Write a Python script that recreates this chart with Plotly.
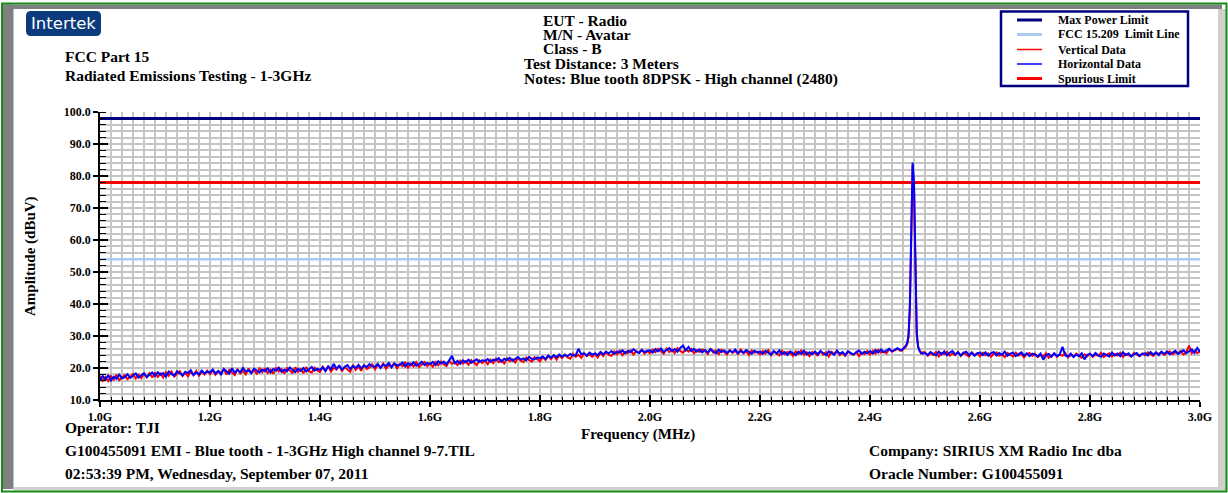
import numpy as np
import plotly.graph_objects as go

# ---- frequency sampling (GHz) ----
freq_a = np.round(np.arange(1.000, 2.4551, 0.005), 4)      # 1.000 .. 2.455
freq_peak = np.round(np.arange(2.4575, 2.4951, 0.0025), 4)  # fine steps around the carrier
freq_b = np.round(np.arange(2.500, 3.0001, 0.005), 4)       # 2.500 .. 3.000
freq_ghz = np.concatenate([freq_a, freq_peak, freq_b])

# ---- measured amplitudes (dBuV) ----
vertical_a = [
    17.6, 16.0, 17.2, 15.9, 17.5, 16.4, 17.9, 16.2, 17.0, 17.8, 16.5, 17.4, 18.1, 16.7, 17.9, 16.8, 18.2, 17.1, 18.4, 17.0,
    18.6, 17.2, 18.3, 17.0, 18.7, 17.6, 18.9, 17.3, 18.2, 19.0, 17.5, 18.5, 17.4, 18.9, 17.8, 19.1, 17.6, 18.8, 18.0, 19.2,
    18.1, 19.3, 17.9, 19.0, 18.4, 19.6, 18.0, 19.4, 18.6, 17.8, 19.7, 18.3, 19.1, 18.0, 19.8, 18.5, 19.3, 18.2, 19.9, 18.7,
    19.8, 18.4, 19.5, 18.2, 20.1, 18.9, 19.7, 18.3, 20.0, 19.1, 18.5, 20.2, 18.8, 19.6, 18.4, 20.3, 19.0, 18.6, 20.1, 19.2,
    18.7, 20.4, 19.2, 20.6, 18.9, 20.1, 19.5, 20.8, 19.0, 20.3, 19.6, 18.8, 21.0, 19.4, 20.5, 19.1, 20.9, 19.7, 20.2, 21.1,
    19.6, 21.0, 20.2, 21.4, 19.8, 20.9, 20.4, 21.5, 19.9, 21.2, 20.6, 21.7, 20.1, 21.3, 20.5, 21.8, 20.3, 21.1, 21.9, 20.6,
    21.5, 20.4, 21.9, 20.8, 22.0, 21.1, 20.6, 22.2, 21.3, 21.8, 20.9, 22.3, 21.4, 22.1, 21.0, 22.5, 21.6, 20.9, 22.4, 21.5,
    22.3, 21.2, 22.6, 21.5, 22.9, 21.8, 22.4, 21.4, 23.0, 22.1, 22.7, 21.7, 23.2, 22.3, 21.9, 23.3, 22.5, 22.0, 23.4, 22.6,
    22.1, 23.4, 22.5, 23.7, 22.8, 23.9, 22.6, 24.0, 23.1, 24.2, 23.3, 22.9, 24.4, 23.5, 24.1, 23.2, 24.6, 23.7, 24.3, 23.5,
    24.5, 23.3, 24.8, 23.7, 25.0, 24.1, 23.8, 25.2, 24.3, 25.4, 24.0, 25.1, 24.6, 25.5, 24.2, 25.3, 24.7, 25.7, 24.5, 25.2,
    24.6, 25.8, 24.9, 26.0, 25.2, 24.5, 26.1, 25.0, 25.7, 24.7, 26.2, 25.3, 24.8, 25.9, 25.1, 26.0, 24.6, 25.6, 25.0, 25.8,
    25.4, 24.4, 25.9, 24.8, 25.5, 24.3, 25.7, 24.9, 24.2, 25.6, 24.7, 25.3, 24.4, 25.8, 24.6, 25.2, 24.1, 25.5, 24.8, 25.1,
    24.2, 25.3, 24.5, 25.6, 24.0, 25.1, 24.7, 23.9, 25.4, 24.3, 25.0, 24.6, 23.8, 25.2, 24.4, 25.5, 24.1, 24.9, 23.7, 25.0,
    24.6, 23.9, 25.3, 24.2, 24.9, 23.6, 25.1, 24.4, 25.4, 24.0, 24.7, 23.8, 25.2, 24.5, 24.1, 25.0, 23.7, 24.8, 24.3, 25.3,
    24.2, 25.4, 24.5, 25.7, 24.8, 25.2, 24.6, 25.9, 25.1, 25.5, 26.0, 25.4,
]
vertical_peak = [25.4, 25.8, 26.2, 26.6, 27.4, 29.5, 38.0, 62.0, 83.5, 76.0, 45.0, 30.0, 26.5, 25.2, 24.6, 24.9]
vertical_b = [
    24.9, 23.8, 24.6, 24.1, 25.0, 23.6, 24.7, 24.3, 25.1, 23.9, 24.5, 24.0, 25.0, 23.7, 24.8, 24.2, 23.6, 24.9, 24.1, 24.5,
    23.7, 24.8, 24.0, 24.6, 23.5, 24.4, 24.9, 23.8, 24.2, 23.4, 24.7, 24.1, 23.6, 24.8, 23.9, 24.5, 23.3, 24.3, 24.7, 23.8,
    24.4, 23.4, 24.1, 23.7, 24.6, 23.2, 24.0, 24.5, 23.5, 24.2, 23.8, 24.7, 23.3, 24.1, 23.6, 24.5, 23.9, 23.2, 24.3, 23.7,
    24.5, 23.5, 24.2, 23.8, 24.7, 23.4, 24.1, 24.6, 23.6, 24.3, 23.9, 24.8, 23.5, 24.4, 24.0, 23.6, 24.7, 24.2, 23.7, 24.5,
    24.0, 24.9, 24.3, 23.8, 24.7, 24.4, 25.0, 24.1, 24.6, 25.2, 24.3, 24.8, 24.5, 25.3, 24.2, 24.9, 27.0, 24.6, 25.4, 24.7,
    25.1,
]

horizontal_a = [
    16.2, 17.5, 16.4, 17.8, 16.1, 17.3, 16.6, 17.9, 16.8, 17.1, 18.0, 16.9, 17.6, 18.3, 17.0, 17.7, 18.4, 17.2, 17.9, 18.6,
    17.5, 18.7, 17.9, 18.4, 17.3, 18.9, 18.1, 17.6, 19.0, 18.2, 17.7, 18.8, 18.4, 19.3, 17.8, 18.6, 18.0, 19.2, 18.3, 18.9,
    18.6, 19.5, 18.3, 19.1, 18.0, 19.7, 18.8, 18.2, 19.9, 18.5, 19.4, 18.7, 20.0, 18.9, 19.3, 18.4, 19.8, 19.1, 18.6, 19.5,
    19.0, 19.9, 18.6, 19.7, 19.2, 20.1, 18.8, 19.5, 19.0, 20.2, 19.3, 18.7, 19.8, 19.1, 20.0, 18.9, 19.6, 20.3, 19.2, 19.8,
    19.4, 20.2, 19.0, 20.5, 19.6, 21.3, 19.8, 20.7, 19.5, 20.4, 20.9, 19.7, 20.6, 20.0, 21.0, 19.9, 20.8, 20.3, 21.2, 20.5,
    20.4, 21.3, 20.0, 21.1, 20.6, 21.6, 20.2, 21.4, 20.8, 21.0, 21.7, 20.5, 21.5, 20.9, 21.8, 20.7, 21.2, 22.0, 20.9, 21.6,
    21.2, 21.9, 20.9, 22.1, 21.4, 22.0, 21.1, 22.3, 23.8, 21.5, 22.2, 21.3, 22.4, 21.8, 22.6, 21.6, 22.1, 22.7, 21.9, 22.4,
    22.2, 22.8, 21.9, 22.6, 22.4, 23.1, 22.0, 22.9, 22.5, 23.2, 22.3, 22.8, 23.4, 22.6, 23.0, 22.4, 23.5, 22.9, 22.7, 23.3,
    23.0, 23.6, 22.8, 23.9, 23.2, 24.0, 23.4, 24.2, 23.5, 24.1, 23.7, 24.4, 23.9, 24.0, 26.0, 24.3, 24.6, 23.9, 24.8, 24.2,
    24.5, 24.0, 25.0, 24.3, 25.1, 24.6, 25.3, 24.4, 25.2, 24.8, 25.5, 24.6, 25.4, 24.9, 25.9, 25.1, 24.7, 25.6, 25.0, 25.4,
    25.5, 24.8, 25.9, 25.2, 26.1, 25.0, 25.7, 26.2, 25.3, 25.9, 25.1, 26.3, 27.0, 25.5, 26.6, 25.3, 26.0, 25.1, 25.8, 24.9,
    25.6, 24.8, 25.9, 25.1, 24.6, 25.7, 25.0, 25.5, 24.7, 25.4, 24.9, 25.8, 24.6, 25.3, 24.8, 25.6, 25.0, 24.5, 25.4, 24.8,
    25.2, 24.4, 25.4, 24.7, 24.2, 25.3, 24.5, 25.5, 24.3, 25.0, 24.1, 25.2, 24.6, 24.0, 25.1, 24.4, 25.4, 24.2, 24.9, 24.3,
    25.1, 24.3, 25.3, 24.5, 24.0, 25.2, 24.6, 24.1, 25.4, 24.4, 25.0, 24.0, 25.2, 24.6, 24.2, 24.9, 25.5, 24.4, 25.1, 24.6,
    25.3, 24.5, 25.6, 24.8, 25.8, 24.9, 25.4, 26.0, 25.2, 25.6, 26.2, 25.7,
]
horizontal_peak = [25.6, 26.0, 26.4, 27.0, 27.8, 30.0, 40.0, 66.0, 84.2, 78.0, 48.0, 31.0, 26.8, 25.4, 24.8, 24.5]
horizontal_b = [
    24.7, 24.1, 25.0, 24.4, 23.9, 25.1, 24.2, 25.2, 24.0, 24.8, 25.3, 24.2, 24.9, 23.9, 24.7, 25.1, 24.0, 24.8, 23.8, 24.6,
    24.8, 24.0, 24.9, 23.8, 24.6, 25.0, 23.9, 24.7, 24.1, 25.1, 23.8, 24.5, 24.8, 23.7, 24.4, 24.9, 23.9, 24.6, 23.7, 24.5,
    24.2, 23.6, 24.5, 22.6, 24.0, 24.4, 23.5, 24.6, 23.7, 24.3, 26.6, 23.9, 23.6, 24.5, 23.4, 24.2, 23.7, 24.6, 22.7, 24.1,
    24.4, 23.7, 24.7, 23.9, 23.5, 24.5, 24.0, 23.6, 24.8, 23.9, 24.5, 23.7, 24.9, 24.0, 24.6, 23.6, 24.3, 24.7, 23.8, 24.4,
    24.6, 23.9, 25.0, 24.2, 24.9, 24.0, 25.1, 24.4, 25.2, 24.3, 24.8, 25.4, 24.4, 25.1, 25.5, 24.6, 25.2, 25.8, 24.7, 26.3,
    25.0,
]

vertical_data = vertical_a + vertical_peak + vertical_b
horizontal_data = horizontal_a + horizontal_peak + horizontal_b
assert len(vertical_data) == len(freq_ghz) == len(horizontal_data)

# ---- limit lines (dBuV) ----
max_power_limit = 98.0
fcc_15209_limit = 54.0
spurious_limit = 78.0

freq_span = [1.0, 3.0]
amp_span = [10.0, 100.0]

SERIF = "Liberation Serif"
W, H = 1228, 493
L, R, T, B = 100, 28, 112, 93
PW, PH = W - L - R, H - T - B


def px(x):
    return (x - L) / PW


def py(y):
    return (H - B - y) / PH


fig = go.Figure()

# limit lines
fig.add_trace(go.Scatter(x=freq_span, y=[fcc_15209_limit] * 2, mode="lines",
                         line=dict(color="#a9cbf2", width=2.5), name="FCC 15.209  Limit Line"))
fig.add_trace(go.Scatter(x=freq_span, y=[spurious_limit] * 2, mode="lines",
                         line=dict(color="#ff0000", width=3), name="Spurious Limit"))
fig.add_trace(go.Scatter(x=freq_span, y=[max_power_limit] * 2, mode="lines",
                         line=dict(color="#000080", width=3), name="Max Power Limit"))

# measured sweeps
fig.add_trace(go.Scatter(x=freq_ghz, y=vertical_data, mode="lines",
                         line=dict(color="#ff0000", width=2), name="Vertical Data"))
fig.add_trace(go.Scatter(x=freq_ghz, y=horizontal_data, mode="lines",
                         line=dict(color="#0000ff", width=2), name="Horizontal Data"))

# empty trace to carry the overlaid inside-tick axes
fig.add_trace(go.Scatter(x=[], y=[], xaxis="x2", yaxis="y2", showlegend=False, hoverinfo="skip"))

tick_font = dict(family=SERIF, size=12, color="black", weight="bold")
grid_col = "#c6c6c6"

fig.update_layout(
    width=W, height=H, autosize=False,
    margin=dict(l=L, r=R, t=T, b=B, pad=0),
    paper_bgcolor="white", plot_bgcolor="white",
    showlegend=False,
    xaxis=dict(range=freq_span, dtick=0.2, tick0=1.0, tickformat=".1f", ticksuffix="G",
               ticks="outside", ticklen=5, tickwidth=1.5, tickcolor="black",
               showline=True, linecolor="black", linewidth=1.5, zeroline=False,
               showgrid=True, gridcolor=grid_col, gridwidth=1.5,
               minor=dict(dtick=0.02, tick0=1.0, ticks="outside", ticklen=3, tickwidth=1.2,
                          tickcolor="black", showgrid=True, gridcolor=grid_col, gridwidth=1.5),
               tickfont=tick_font),
    yaxis=dict(range=amp_span, dtick=10, tick0=10, tickformat=".1f",
               ticks="outside", ticklen=5, tickwidth=1.5, tickcolor="black",
               showline=True, linecolor="black", linewidth=1.5, zeroline=False,
               showgrid=True, gridcolor=grid_col, gridwidth=1.5,
               minor=dict(dtick=2, tick0=10, ticks="inside", ticklen=6, tickwidth=1.2,
                          tickcolor="black", showgrid=True, gridcolor=grid_col, gridwidth=1.5),
               tickfont=tick_font),
    xaxis2=dict(overlaying="x", anchor="y2", side="bottom", range=freq_span, dtick=0.2, tick0=1.0,
                ticks="inside", ticklen=5, tickwidth=1.5, tickcolor="black",
                minor=dict(dtick=0.02, tick0=1.0, ticks="inside", ticklen=3, tickwidth=1.2, tickcolor="black"),
                showticklabels=False, showgrid=False, showline=False, zeroline=False),
    yaxis2=dict(overlaying="y", anchor="x2", side="left", range=amp_span, dtick=10, tick0=10,
                ticks="inside", ticklen=8, tickwidth=1.5, tickcolor="black",
                showticklabels=False, showgrid=False, showline=False, zeroline=False),
)

shapes = []
annotations = []


def text(s, x, y, size=15.5, anchor="left", family=SERIF, color="black", angle=0):
    annotations.append(dict(text=s, x=px(x), y=py(y), xref="paper", yref="paper",
                            xanchor=anchor, yanchor="middle", showarrow=False, textangle=angle,
                            font=dict(family=family, size=size, color=color, weight="bold")))


def rect(x0, y0, x1, y1, fill=None, line_color=None, line_width=0):
    shapes.append(dict(type="rect", xref="paper", yref="paper",
                       x0=px(x0), x1=px(x1), y0=py(y1), y1=py(y0),
                       fillcolor=fill if fill else "rgba(0,0,0,0)",
                       line=dict(color=line_color if line_color else "rgba(0,0,0,0)", width=line_width),
                       layer="above"))


def hline(x0, x1, y, color, width):
    shapes.append(dict(type="line", xref="paper", yref="paper",
                       x0=px(x0), x1=px(x1), y0=py(y), y1=py(y),
                       line=dict(color=color, width=width), layer="above"))


# page frame: bevel bands and green outline
rect(3, 4.5, 1222, 9, fill="#808080")
rect(3, 4.5, 13.5, 489, fill="#808080")
rect(1218, 9, 1226, 490, fill="#cfcfcf")
rect(13.5, 487, 1226, 490.5, fill="#cfcfcf")
rect(2, 3.5, 1226.5, 491.5, line_color="#178a17", line_width=2)

# company badge with rounded corners
bx0, by0, bx1, by1, rr = 26, 11, 101, 36, 5
path = (f"M {px(bx0 + rr)},{py(by0)} L {px(bx1 - rr)},{py(by0)} "
        f"Q {px(bx1)},{py(by0)} {px(bx1)},{py(by0 + rr)} L {px(bx1)},{py(by1 - rr)} "
        f"Q {px(bx1)},{py(by1)} {px(bx1 - rr)},{py(by1)} L {px(bx0 + rr)},{py(by1)} "
        f"Q {px(bx0)},{py(by1)} {px(bx0)},{py(by1 - rr)} L {px(bx0)},{py(by0 + rr)} "
        f"Q {px(bx0)},{py(by0)} {px(bx0 + rr)},{py(by0)} Z")
shapes.append(dict(type="path", path=path, xref="paper", yref="paper",
                   fillcolor="#0b3b7c", line=dict(width=0), layer="above"))
annotations.append(dict(text="Intertek", x=px(63.5), y=py(23.5), xref="paper", yref="paper",
                        xanchor="center", yanchor="middle", showarrow=False,
                        font=dict(family="DejaVu Sans", size=16.5, color="white")))

# header text
text("FCC Part 15", 63, 57)
text("Radiated Emissions Testing - 1-3GHz", 63, 75.5)
text("EUT - Radio", 540.5, 20.5)
text("M/N - Avatar", 540.5, 34.5)
text("Class - B", 540.5, 48.5)
text("Test Distance: 3 Meters", 521.5, 63.5)
text("Notes: Blue tooth 8DPSK - High channel (2480)", 521.5, 78.5)

# legend box
rect(1001, 11.5, 1188, 86, fill="white", line_color="#000080", line_width=2.5)
legend_rows = [
    ("Max Power Limit", "#000080", 3, 20),
    ("FCC 15.209  Limit Line", "#a9cbf2", 3, 34.5),
    ("Vertical Data", "#ff0000", 1.5, 49.5),
    ("Horizontal Data", "#0000ff", 1.5, 64),
    ("Spurious Limit", "#ff0000", 3, 78.5),
]
for label, col, lw, yy in legend_rows:
    hline(1017, 1042, yy, col, lw)
    text(label, 1055.5, yy, size=12)

# axis titles
text("Amplitude (dBuV)", 30, 256, size=15, anchor="center", angle=-90)
text("Frequency (MHz)", 637.5, 434, size=15, anchor="center")

# footer text
text("Operator: TJI", 63, 427)
text("G100455091 EMI - Blue tooth - 1-3GHz High channel 9-7.TIL", 63, 450)
text("02:53:39 PM, Wednesday, September 07, 2011", 63, 473)
text("Company: SIRIUS XM Radio Inc dba", 867, 450)
text("Oracle Number: G100455091", 867, 473.5)

fig.update_layout(shapes=shapes, annotations=annotations)
fig.write_html("out.html")
